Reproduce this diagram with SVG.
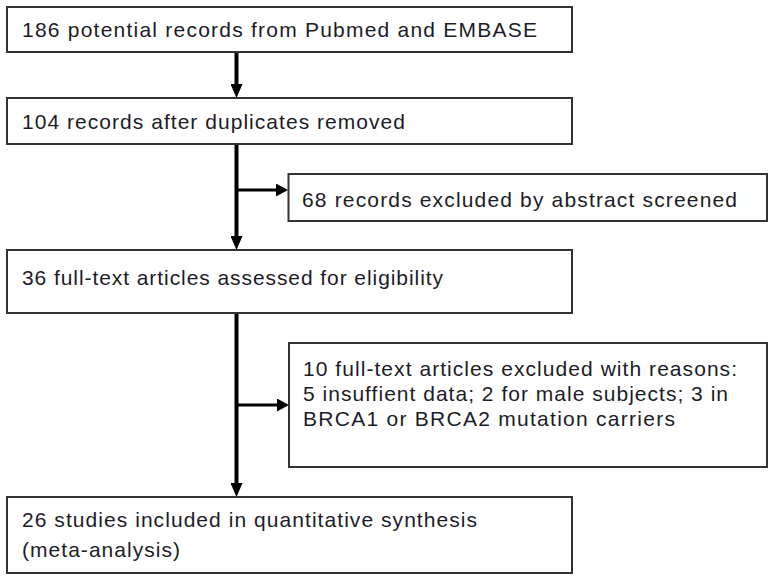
<svg xmlns="http://www.w3.org/2000/svg" width="774" height="581" viewBox="0 0 774 581">
  <style>
    .box { fill: #ffffff; stroke: #333333; stroke-width: 2; }
    .lbl { font-family: "Liberation Sans", Arial, sans-serif; font-size: 21px; fill: #1c1c28; }
    .main { stroke: #000000; stroke-width: 4; fill: none; }
    .branch { stroke: #000000; stroke-width: 3; fill: none; }
  </style>
  <defs>
    <marker id="arrowV" viewBox="0 0 14 12" refX="0" refY="6" markerWidth="14" markerHeight="12" markerUnits="userSpaceOnUse" orient="auto">
      <path d="M0,0 L14,6 L0,12 Z" fill="#000000"/>
    </marker>
    <marker id="arrowH" viewBox="0 0 12 13" refX="0" refY="6.5" markerWidth="12" markerHeight="13" markerUnits="userSpaceOnUse" orient="auto">
      <path d="M0,0 L12,6.5 L0,13 Z" fill="#000000"/>
    </marker>
  </defs>
  <rect width="774" height="581" fill="#ffffff"/>

  <g id="connectors">
    <line class="main" x1="236.5" y1="52" x2="236.5" y2="84" marker-end="url(#arrowV)"/>
    <line class="main" x1="236.5" y1="144" x2="236.5" y2="236" marker-end="url(#arrowV)"/>
    <line class="branch" x1="236.5" y1="190" x2="276" y2="190" marker-end="url(#arrowH)"/>
    <line class="main" x1="236.5" y1="313" x2="236.5" y2="483" marker-end="url(#arrowV)"/>
    <line class="branch" x1="236.5" y1="405" x2="277" y2="405" marker-end="url(#arrowH)"/>
  </g>

  <g id="node-records">
    <rect class="box" x="7" y="7" width="565" height="45"/>
    <text class="lbl" x="22" y="37" textLength="515" lengthAdjust="spacing">186 potential records from Pubmed and EMBASE</text>
  </g>
  <g id="node-dedup">
    <rect class="box" x="7" y="98" width="565" height="46"/>
    <text class="lbl" x="22" y="129" textLength="383" lengthAdjust="spacing">104 records after duplicates removed</text>
  </g>
  <g id="node-abstract-excluded">
    <rect class="box" x="288.5" y="174" width="478.5" height="47"/>
    <text class="lbl" x="302" y="207" textLength="435" lengthAdjust="spacing">68 records excluded by abstract screened</text>
  </g>
  <g id="node-fulltext">
    <rect class="box" x="7" y="250" width="565" height="63"/>
    <text class="lbl" x="22" y="285" textLength="421" lengthAdjust="spacing">36 full-text articles assessed for eligibility</text>
  </g>
  <g id="node-fulltext-excluded">
    <rect class="box" x="289" y="343" width="478" height="124"/>
    <text class="lbl" x="303" y="376" textLength="434" lengthAdjust="spacing">10 full-text articles excluded with reasons:</text>
    <text class="lbl" x="303" y="401" textLength="425" lengthAdjust="spacing">5 insuffient data; 2 for male subjects; 3 in</text>
    <text class="lbl" x="303" y="426" textLength="372" lengthAdjust="spacing">BRCA1 or BRCA2 mutation carriers</text>
  </g>
  <g id="node-included">
    <rect class="box" x="7" y="497" width="565" height="76"/>
    <text class="lbl" x="22" y="527" textLength="455" lengthAdjust="spacing">26 studies included in quantitative synthesis</text>
    <text class="lbl" x="22" y="557" textLength="158" lengthAdjust="spacing">(meta-analysis)</text>
  </g>
</svg>
